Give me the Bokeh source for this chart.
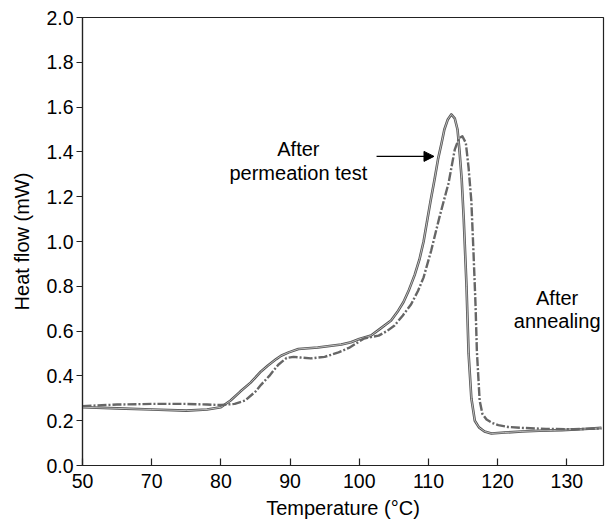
from bokeh.plotting import figure
from bokeh.models import (Range1d, FixedTicker, NumeralTickFormatter, Label, Arrow, NormalHead)
from bokeh.embed import file_html
from bokeh.resources import INLINE

# After permeation test (solid)
perm_x = [60, 65, 70, 75, 78, 80, 81.4, 82.8, 84.3, 85.8, 86.8, 88.0, 88.7, 89.8, 91.2, 94.0, 97.4, 98.8,
          100.0, 101.7, 103.0, 104.6, 105.5, 106.4, 107.2, 108.0, 108.7, 109.3, 109.8, 110.3, 110.9,
          111.4, 111.9, 112.3, 112.8, 113.3, 113.8, 114.2, 114.5,
          114.8, 115.1, 115.5, 115.8, 116.2, 116.7, 117.3, 118.1, 119.1, 121.0, 123.5, 126.0, 129.3,
          132.0, 135.0]
perm_y = [0.26, 0.255, 0.25, 0.245, 0.25, 0.26, 0.29, 0.33, 0.37, 0.42, 0.446, 0.475, 0.49, 0.505,
          0.52, 0.527, 0.54, 0.55, 0.565, 0.58, 0.61, 0.647, 0.685, 0.73, 0.785, 0.85, 0.92, 1.0,
          1.09, 1.18, 1.28, 1.37, 1.44, 1.50, 1.545, 1.567, 1.55,
          1.50, 1.40, 1.28, 1.10, 0.80, 0.50, 0.30, 0.20, 0.17, 0.152, 0.143, 0.147, 0.152, 0.155,
          0.158, 0.162, 0.168]

# After annealing (dash-dot)
ann_x = [60, 65, 70, 75, 78, 80, 82, 83.5, 85.0, 85.8, 87.0, 88.3, 89.5, 90.5, 91.5, 93.0, 95.0, 97.0,
         98.5, 100.7, 102.8, 104.0, 105.1, 106.3, 107.5, 108.5, 109.3, 110.4, 111.6, 112.9, 113.8,
         114.4, 114.9, 115.4, 115.8, 116.2, 116.5, 116.8, 117.0, 117.4, 117.8, 118.4, 119.2, 120.1,
         121.5, 123.5, 127.0, 131.0, 135.0]
ann_y = [0.265, 0.272, 0.275, 0.275, 0.272, 0.27, 0.275, 0.29, 0.33, 0.36, 0.40, 0.45, 0.48, 0.485,
         0.482, 0.478, 0.485, 0.505, 0.525, 0.567, 0.58, 0.60, 0.625, 0.67, 0.72, 0.78, 0.84, 0.96,
         1.11, 1.26, 1.41, 1.46, 1.47, 1.44, 1.33, 1.18, 0.96, 0.72, 0.51, 0.29, 0.23, 0.205, 0.19,
         0.18, 0.172, 0.168, 0.163, 0.162, 0.165]

x_tick_values = [60, 70, 80, 90, 100, 110, 120, 130]
x_tick_labels = ["50", "70", "80", "90", "100", "110", "120", "130"]
y_tick_values = [0.0, 0.2, 0.4, 0.6, 0.8, 1.0, 1.2, 1.4, 1.6, 1.8, 2.0]

FONT = "Liberation Sans"

p = figure(width=608, height=526, output_backend="svg", toolbar_location=None,
           x_range=Range1d(60, 135.3), y_range=Range1d(0, 2.0),
           min_border_left=82, min_border_right=5, min_border_top=17, min_border_bottom=61)

p.background_fill_color = "white"
p.border_fill_color = "white"
p.outline_line_color = "#222222"
p.outline_line_width = 1.2
p.grid.visible = False

# x axis
p.xaxis.ticker = FixedTicker(ticks=x_tick_values)
p.xaxis.major_label_overrides = {v: l for v, l in zip(x_tick_values, x_tick_labels)}
p.xaxis.minor_tick_line_color = None
p.xaxis.major_tick_in = 7
p.xaxis.major_tick_out = 0
p.xaxis.major_label_standoff = 8
p.xaxis.axis_label = "Temperature (°C)"
p.xaxis.axis_label_standoff = 6

# y axis
p.yaxis.ticker = FixedTicker(ticks=y_tick_values)
p.yaxis.formatter = NumeralTickFormatter(format="0.0")
p.yaxis.minor_tick_line_color = None
p.yaxis.major_tick_in = 0
p.yaxis.major_tick_out = 6
p.yaxis.major_label_standoff = 3
p.yaxis.axis_label = "Heat flow (mW)"
p.yaxis.axis_label_standoff = 10

for ax in (p.xaxis, p.yaxis):
    ax.axis_line_color = "#222222"
    ax.axis_line_width = 1.2
    ax.major_tick_line_color = "#222222"
    ax.major_tick_line_width = 1.2
    ax.major_label_text_font = FONT
    ax.major_label_text_font_size = "19.5px"
    ax.major_label_text_color = "black"
    ax.axis_label_text_font = FONT
    ax.axis_label_text_font_size = "20px"
    ax.axis_label_text_font_style = "normal"
    ax.axis_label_text_color = "black"

# curves (hollow gray strokes)
p.line(perm_x, perm_y, line_color="#555555", line_width=2.6, line_join="round")
p.line(perm_x, perm_y, line_color="#d8d8d8", line_width=0.8, line_join="round")
p.line(ann_x, ann_y, line_color="#666666", line_width=2.4, line_dash="9 2 2 2", line_join="round")

# annotations
for txt, x, y in [("After", 91.2, 1.415), ("permeation test", 91.2, 1.305),
                  ("After", 128.6, 0.75), ("annealing", 128.6, 0.645)]:
    p.add_layout(Label(x=x, y=y, text=txt, text_align="center", text_baseline="middle",
                       text_font=FONT, text_font_size="20px", text_color="black"))

p.add_layout(Arrow(end=NormalHead(size=10, fill_color="black", line_color="black"),
                   x_start=102.5, y_start=1.38, x_end=110.8, y_end=1.38,
                   line_color="black", line_width=1.2))

open("out.html", "w").write(file_html(p, INLINE))
